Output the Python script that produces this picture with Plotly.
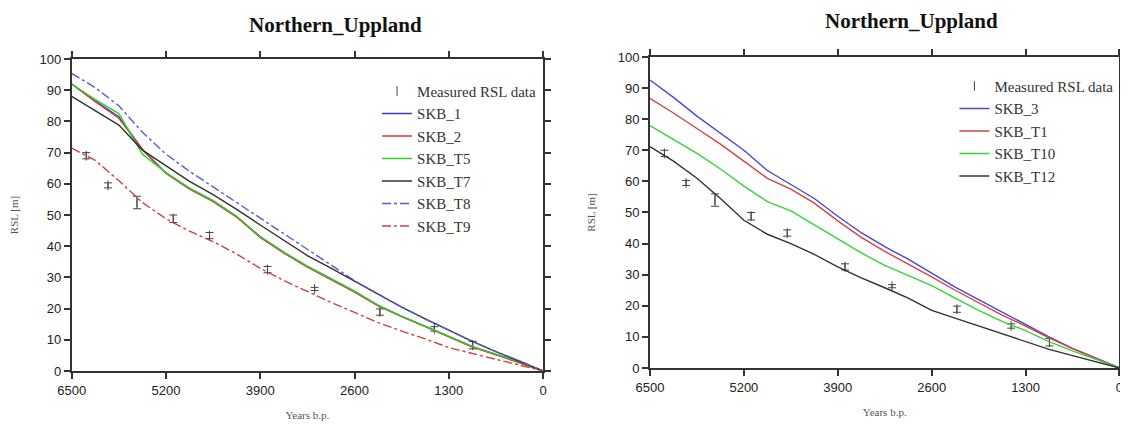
import plotly.graph_objects as go

# ---------------- data ----------------
years = [6500, 6175, 5850, 5525, 5200, 4875, 4550, 4225, 3900, 3575, 3250,
         2925, 2600, 2275, 1950, 1625, 1300, 975, 650, 325, 0]

# measured RSL data
meas_years = [6300, 6000, 5600, 5100, 4600, 3800, 3150, 2250, 1500, 970]
meas_rsl = [69.0, 59.5, 54.0, 48.8, 43.4, 32.5, 26.3, 18.9, 13.5, 8.3]
meas_err = [1.0, 0.8, 2.0, 1.2, 1.0, 1.0, 0.5, 1.0, 0.7, 1.2]

# left panel models
skb_1 = [92.0, 86.5, 81.5, 71.0, 63.5, 58.5, 54.5, 49.5, 43.0, 38.0, 33.5,
         29.5, 25.5, 21.0, 17.5, 14.3, 11.0, 7.8, 5.3, 2.8, 0.0]
skb_2 = [92.0, 86.3, 81.0, 71.0, 63.3, 58.3, 54.3, 49.3, 42.8, 37.8, 33.3,
         29.3, 25.3, 20.9, 17.4, 14.2, 10.9, 7.7, 5.2, 2.7, 0.0]
skb_t5 = [92.0, 87.0, 82.5, 69.5, 63.6, 58.6, 54.6, 49.6, 43.1, 38.1, 33.6,
          29.6, 25.6, 21.1, 17.6, 14.4, 11.1, 7.9, 5.4, 2.9, 0.0]
skb_t7 = [88.0, 83.5, 78.8, 70.8, 65.7, 60.8, 56.5, 51.8, 46.8, 41.8, 37.0,
          33.0, 28.8, 24.6, 20.5, 16.7, 13.0, 9.5, 6.2, 3.2, 0.0]
skb_t8 = [95.4, 90.8, 85.0, 76.5, 69.5, 64.0, 59.0, 54.0, 49.0, 44.0, 38.8,
          34.0, 29.0, 24.7, 20.5, 16.7, 13.0, 9.5, 6.2, 3.3, 0.0]
skb_t9 = [71.4, 67.5, 61.0, 54.0, 48.8, 44.8, 41.5, 37.5, 32.9, 29.0, 25.5,
          22.0, 18.8, 15.5, 12.8, 10.3, 7.5, 5.6, 3.8, 2.0, 0.0]

# right panel models
skb_3 = [92.6, 87.0, 81.0, 75.5, 70.0, 63.5, 59.0, 54.5, 48.8, 43.5, 39.0,
         35.0, 30.5, 26.0, 22.0, 18.0, 14.2, 10.0, 6.3, 3.2, 0.0]
skb_t1 = [86.7, 82.0, 77.0, 72.0, 66.5, 61.0, 57.5, 53.0, 47.3, 42.0, 37.5,
          33.5, 29.3, 25.0, 21.0, 17.0, 13.5, 9.7, 6.2, 3.1, 0.0]
skb_t10 = [77.9, 73.5, 69.0, 64.0, 58.5, 53.5, 50.5, 46.0, 41.5, 37.0, 33.0,
           29.8, 26.5, 22.5, 18.5, 15.0, 12.0, 8.5, 5.5, 2.8, 0.0]
skb_t12 = [71.2, 66.5, 61.0, 54.5, 47.5, 43.0, 40.0, 36.5, 32.5, 29.0, 25.8,
           22.5, 18.5, 16.0, 13.5, 11.0, 8.5, 6.0, 4.0, 2.0, 0.0]

x_ticks = [6500, 5200, 3900, 2600, 1300, 0]
y_ticks = [0, 10, 20, 30, 40, 50, 60, 70, 80, 90, 100]
title_text = "Northern_Uppland"

# ---------------- figure ----------------
fig = go.Figure()

def meas_trace(xa, ya, leg):
    return go.Scatter(
        x=meas_years, y=meas_rsl, mode="markers", name="Measured RSL data",
        xaxis=xa, yaxis=ya, legend=leg,
        marker=dict(symbol="line-ns-open", size=7, color="#444",
                    line=dict(width=1, color="#444")),
        error_y=dict(type="data", array=meas_err, visible=True,
                     color="#444", thickness=1, width=4),
    )

fig.add_trace(meas_trace("x", "y", "legend"))
left_series = [
    ("SKB_1", skb_1, "#3a3ac8", "solid"),
    ("SKB_2", skb_2, "#d83a3a", "solid"),
    ("SKB_T5", skb_t5, "#2bd42b", "solid"),
    ("SKB_T7", skb_t7, "#333333", "solid"),
    ("SKB_T8", skb_t8, "#5a5ad8", "dashdot"),
    ("SKB_T9", skb_t9, "#d04040", "dashdot"),
]
for name, vals, col, dash in left_series:
    fig.add_trace(go.Scatter(
        x=years, y=vals, mode="lines", name=name, xaxis="x", yaxis="y",
        legend="legend", line=dict(color=col, width=1.4, dash=dash)))

fig.add_trace(meas_trace("x2", "y2", "legend2"))
right_series = [
    ("SKB_3", skb_3, "#4848d0"),
    ("SKB_T1", skb_t1, "#d04444"),
    ("SKB_T10", skb_t10, "#33d633"),
    ("SKB_T12", skb_t12, "#333333"),
]
for name, vals, col in right_series:
    fig.add_trace(go.Scatter(
        x=years, y=vals, mode="lines", name=name, xaxis="x2", yaxis="y2",
        legend="legend2", line=dict(color=col, width=1.4)))

tick_font = dict(family="Liberation Sans, Arial, sans-serif", size=13, color="#222")
title_font = dict(family="Liberation Serif, Times New Roman, serif", size=11, color="#555")

def xaxis_cfg(domain, anchor):
    return dict(domain=domain, anchor=anchor, range=[6500, 0], tickvals=x_ticks,
                ticktext=[str(v) for v in x_ticks], ticks="outside", ticklen=6,
                tickwidth=1.5, tickcolor="#333", showline=True, linewidth=2,
                linecolor="#333", mirror="ticks", showgrid=False, zeroline=False,
                tickfont=tick_font, automargin=False,
                title=dict(text="Years b.p.", font=title_font, standoff=15))

def yaxis_cfg(domain, anchor):
    return dict(domain=domain, anchor=anchor, range=[0, 100], tickvals=y_ticks,
                ticks="outside", ticklen=6, tickwidth=1.5, tickcolor="#333",
                showline=True, linewidth=2, linecolor="#333", mirror="ticks",
                showgrid=False, zeroline=False, tickfont=tick_font, automargin=False,
                title=dict(text="RSL [m]", font=title_font, standoff=20))

legend_font = dict(family="Liberation Serif, Times New Roman, serif", size=15, color="#333")
head_font = dict(family="Liberation Serif, Times New Roman, serif", size=21, color="#111")

# the page places the figure 8px from the top-left corner
fig.update_layout(
    width=1120, height=417,
    margin=dict(l=0, r=0, t=0, b=0, autoexpand=False),
    paper_bgcolor="white", plot_bgcolor="white",
    showlegend=True,
    xaxis=xaxis_cfg([0.0569, 0.4777], "y"),
    yaxis=yaxis_cfg([0.1295, 0.8777], "x"),
    xaxis2=xaxis_cfg([0.5732, 0.9924], "y2"),
    yaxis2=yaxis_cfg([0.1367, 0.8825], "x2"),
    legend=dict(x=0.3295, y=0.840, xanchor="left", yanchor="top",
                bgcolor="rgba(0,0,0,0)", font=legend_font, itemwidth=30,
                tracegroupgap=0),
    legend2=dict(x=0.845, y=0.852, xanchor="left", yanchor="top",
                 bgcolor="rgba(0,0,0,0)", font=legend_font, itemwidth=30,
                 tracegroupgap=0),
    annotations=[
        dict(text="<b>" + title_text + "</b>", x=0.292, y=0.9904,
             xanchor="center", yanchor="top", borderpad=0,
             xref="paper", yref="paper", showarrow=False, font=head_font),
        dict(text="<b>" + title_text + "</b>", x=0.807, y=1.0,
             xanchor="center", yanchor="top", borderpad=0,
             xref="paper", yref="paper", showarrow=False, font=head_font),
    ],
)

fig.write_html("out.html")
